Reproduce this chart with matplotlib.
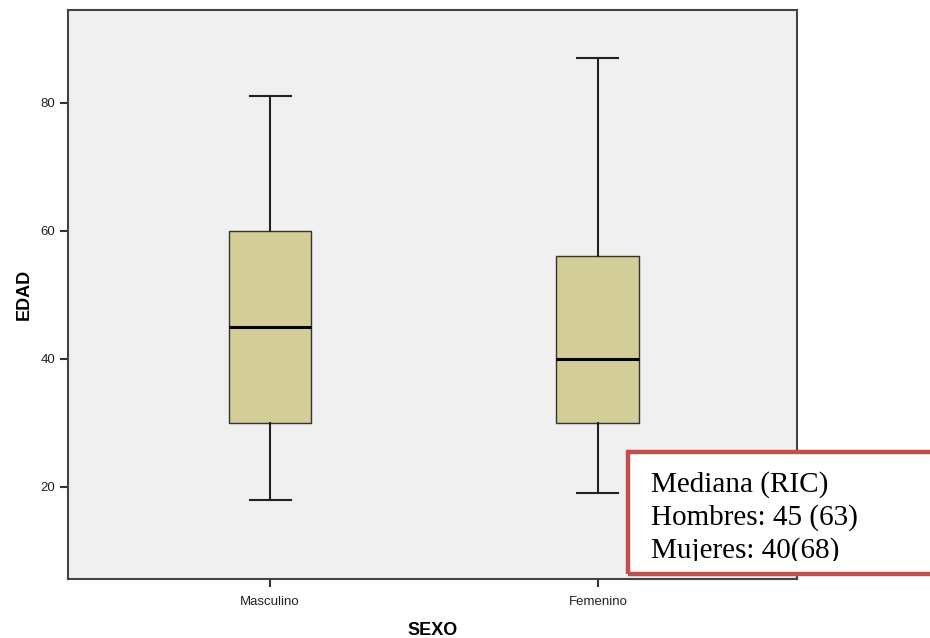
import matplotlib
matplotlib.use('Agg')
import matplotlib.pyplot as plt
from matplotlib.patches import Rectangle
from matplotlib.transforms import Bbox, TransformedBbox

# Box plot summary per group
groups = ["Masculino", "Femenino"]
whisker_low = [18, 19]
q1 = [30, 30]
median = [45, 40]
q3 = [60, 56]
whisker_high = [81, 87]

note_lines = ["Mediana (RIC)", "Hombres: 45 (63)", "Mujeres: 40(68)"]

plt.rcParams['font.family'] = ['Liberation Sans', 'DejaVu Sans']

W, H = 930, 638
fig = plt.figure(figsize=(W / 100, H / 100), dpi=100)
ax = fig.add_axes([68 / W, 1 - 579 / H, (797 - 68) / W, (579 - 10) / H])
ax.set_facecolor('#F0F0F0')

stats = []
for i, g in enumerate(groups):
    stats.append({
        'label': g,
        'whislo': whisker_low[i],
        'q1': q1[i],
        'med': median[i],
        'q3': q3[i],
        'whishi': whisker_high[i],
        'fliers': [],
    })

positions = list(range(1, len(groups) + 1))
ax.bxp(stats, positions=positions, widths=0.253, patch_artist=True,
       showfliers=False,
       boxprops=dict(facecolor='#D3CE97', edgecolor='#333333', linewidth=1.0),
       medianprops=dict(color='black', linewidth=2.2),
       whiskerprops=dict(color='#222222', linewidth=1.5),
       capprops=dict(color='#222222', linewidth=1.5),
       capwidths=0.125)

ax.set_xlim(0.384, 2.607)
ax.set_ylim(5.6, 94.5)
ax.set_yticks([20, 40, 60, 80])
ax.set_xticks(positions)
ax.set_xticklabels(groups)
ax.tick_params(axis='both', direction='out', length=6, width=1.5,
               color='#333333', labelsize=9.5, labelcolor='#222222', pad=3)
ax.tick_params(axis='x', pad=6)

for side in ax.spines.values():
    side.set_color('#444444')
    side.set_linewidth(1.5)

ax.set_ylabel('EDAD', fontsize=13, fontweight='bold', labelpad=6)
ax.set_xlabel('SEXO', fontsize=13, fontweight='bold', labelpad=10)

# annotation box, partly outside the figure on the right
tf = fig.transFigure
x0, y0, x1, y1 = 626 / W, 1 - 576 / H, 940 / W, 1 - 450 / H
fig.patches.append(Rectangle((x0, y0), x1 - x0, y1 - y0, transform=tf,
                             facecolor='white', edgecolor='none', zorder=5))
clip = TransformedBbox(Bbox([[x0, 1 - 561 / H], [x1, y1]]), tf)
for k, line in enumerate(note_lines):
    t = fig.text(651 / W, 1 - (492 + 33 * k) / H, line, fontsize=21,
                 family=['Liberation Serif', 'DejaVu Serif'], color='black',
                 va='baseline', ha='left', zorder=6)
    t.set_clip_box(clip)
    t.set_clip_on(True)
fig.patches.append(Rectangle((x0 + 2 / W, y0 + 2 / H), x1 - x0, y1 - y0 - 4 / H,
                             transform=tf, facecolor='none', edgecolor='#C0504D',
                             linewidth=3.2, zorder=7))

plt.savefig('out.png', dpi=100)
plt.close()
